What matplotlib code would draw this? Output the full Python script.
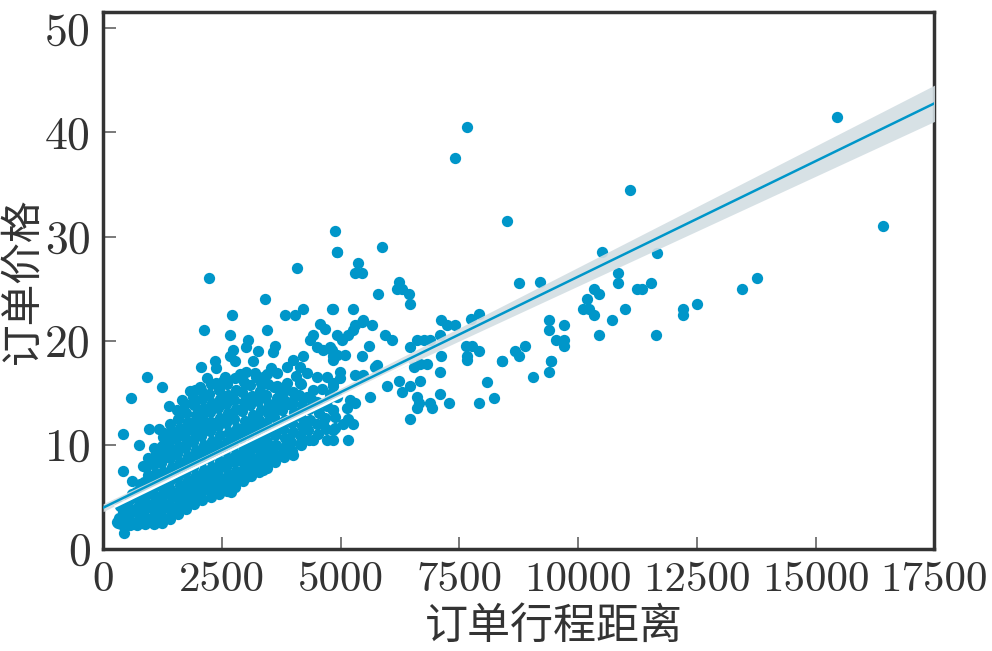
import matplotlib
matplotlib.use("Agg")
import matplotlib.pyplot as plt
import numpy as np
from matplotlib.ticker import FixedLocator

# order distance vs. order price
# dense cloud in the lower left (distance, price)
blob_pts = [
    (380, 2.4), (330, 3.0), (420, 3.5), (360, 4.1), (300, 2.6),
    (560, 2.3), (540, 2.9), (590, 3.5), (520, 4.1), (570, 4.8), (610, 5.3),
    (720, 2.3), (750, 2.9), (700, 3.6), (760, 4.2), (730, 4.9), (690, 5.5), (770, 6.2),
    (880, 2.4), (920, 3.0), (870, 3.7), (930, 4.3), (890, 5.0), (910, 5.7), (860, 6.4),
    (940, 7.1), (900, 7.9), (950, 8.7),
    (1060, 2.4), (1090, 3.1), (1040, 3.8), (1100, 4.5), (1070, 5.2), (1030, 5.9),
    (1080, 6.6), (1110, 7.3), (1050, 8.1), (1090, 8.9), (1060, 9.7),
    (1240, 2.5), (1210, 3.2), (1270, 3.9), (1230, 4.6), (1260, 5.3), (1200, 6.0),
    (1250, 6.7), (1280, 7.4), (1220, 8.2), (1260, 9.0), (1230, 9.9), (1270, 10.7),
    (1400, 2.9), (1430, 3.6), (1390, 4.3), (1440, 5.0), (1410, 5.7), (1380, 6.4),
    (1420, 7.1), (1450, 7.9), (1400, 8.7), (1430, 9.5), (1390, 10.3), (1440, 11.2), (1410, 12.0),
    (1580, 3.3), (1560, 4.0), (1600, 4.7), (1570, 5.4), (1610, 6.1), (1550, 6.8),
    (1590, 7.5), (1620, 8.3), (1560, 9.1), (1600, 9.9), (1570, 10.8), (1610, 11.6),
    (1580, 12.5), (1550, 13.3),
    (1750, 3.8), (1730, 4.5), (1770, 5.2), (1740, 5.9), (1780, 6.6), (1720, 7.3),
    (1760, 8.1), (1790, 8.9), (1730, 9.7), (1770, 10.5), (1740, 11.3), (1780, 12.2),
    (1750, 13.0), (1720, 13.9),
    (1920, 4.3), (1900, 5.0), (1940, 5.7), (1910, 6.4), (1950, 7.1), (1890, 7.9),
    (1930, 8.7), (1960, 9.5), (1900, 10.3), (1940, 11.1), (1910, 12.0), (1950, 12.9),
    (1920, 13.8), (1890, 14.6), (1940, 15.3),
    (2090, 4.7), (2070, 5.4), (2110, 6.1), (2080, 6.8), (2120, 7.6), (2060, 8.4),
    (2100, 9.2), (2130, 10.0), (2070, 10.8), (2110, 11.7), (2080, 12.6), (2120, 13.5),
    (2090, 14.4), (2060, 15.3),
    (2260, 5.0), (2240, 5.7), (2280, 6.4), (2250, 7.1), (2290, 7.9), (2230, 8.7),
    (2270, 9.5), (2300, 10.4), (2240, 11.3), (2280, 12.2), (2250, 13.1), (2290, 14.0),
    (2230, 14.9), (2270, 15.8),
    (2430, 5.3), (2410, 6.0), (2450, 6.8), (2420, 7.6), (2460, 8.4), (2400, 9.2),
    (2440, 10.0), (2470, 10.9), (2410, 11.8), (2450, 12.6), (2420, 13.5), (2460, 14.4),
    (2430, 15.3),
    (2600, 5.6), (2580, 6.3), (2620, 7.1), (2590, 7.9), (2630, 8.7), (2570, 9.5),
    (2610, 10.3), (2640, 11.2), (2580, 12.1), (2620, 13.0), (2590, 13.9), (2630, 14.8),
    (2600, 15.8),
    (2770, 5.9), (2750, 6.7), (2790, 7.5), (2760, 8.3), (2800, 9.1), (2740, 9.9),
    (2780, 10.8), (2810, 11.6), (2750, 12.5), (2790, 13.4), (2760, 14.3), (2800, 15.3),
    (2940, 6.5), (2920, 7.3), (2960, 8.1), (2930, 8.9), (2970, 9.7), (2910, 10.6),
    (2950, 11.5), (2980, 12.3), (2920, 13.2), (2960, 14.1), (2930, 15.1), (2970, 16.0),
    (3110, 7.0), (3090, 7.8), (3130, 8.6), (3100, 9.4), (3140, 10.3), (3080, 11.1),
    (3120, 12.0), (3150, 12.9), (3090, 13.8), (3130, 14.7), (3100, 15.7),
    (3280, 7.4), (3260, 8.2), (3300, 9.0), (3270, 9.8), (3310, 10.7), (3250, 11.6),
    (3290, 12.4), (3320, 13.3), (3260, 14.2), (3300, 15.2),
    (3450, 7.8), (3430, 8.6), (3470, 9.4), (3440, 10.3), (3480, 11.2), (3420, 12.1),
    (3460, 13.0), (3490, 13.9), (3430, 14.8), (3470, 15.8), (3440, 16.8),
    (3620, 8.3), (3600, 9.1), (3640, 10.0), (3610, 10.9), (3650, 11.8), (3590, 12.7),
    (3630, 13.6), (3660, 14.5), (3600, 15.5),
    (3800, 8.8), (3780, 9.7), (3820, 10.6), (3790, 11.5), (3830, 12.4), (3770, 13.3),
    (3810, 14.3), (3840, 15.3),
    (3980, 9.4), (3960, 10.3), (4000, 11.2), (3970, 12.1), (4010, 13.1), (3950, 14.1), (3990, 15.1),
    (4160, 10.0), (4140, 10.9), (4180, 11.8), (4150, 12.8), (4190, 13.8), (4130, 14.8), (4170, 15.8),
    (4340, 10.5), (4320, 11.4), (4360, 12.4), (4330, 13.4), (4370, 14.4),
    (4520, 11.0), (4500, 12.0), (4540, 13.0), (4510, 14.1),
    (4700, 11.5), (4680, 12.6), (4720, 13.7),
]

# looser points around and above the cloud
upper_pts = [
    (923, 16.5), (1240, 15.5), (592, 14.5), (2028, 15.5), (2064, 17.5), (2352, 18.0),
    (2381, 17.4), (2732, 19.1), (2662, 18.5), (2768, 18.0), (3049, 20.1), (3015, 19.4),
    (3269, 19.0), (3613, 19.5), (3577, 18.9), (3155, 18.0), (3015, 17.0), (3227, 16.5),
    (3366, 16.5), (3332, 15.9), (2557, 16.5), (2381, 15.9), (2768, 16.4), (2128, 21.0),
    (2662, 20.5), (3459, 21.0), (4564, 21.6), (4670, 21.1), (2711, 22.5), (3831, 22.5),
    (4036, 22.5), (4211, 23.0), (4824, 23.0), (3408, 24.0), (2225, 26.0), (4072, 27.0),
    (4917, 28.5), (4881, 30.5),
    (4423, 20.5), (4353, 20.1), (4494, 19.4), (4634, 19.1), (4775, 19.4), (4845, 18.5),
    (4211, 18.5), (4000, 18.1), (3860, 17.5), (3649, 16.9), (4141, 17.5), (4283, 16.9),
    (4494, 16.5), (4705, 16.5), (3860, 15.9), (4141, 15.9), (4423, 15.3), (4845, 15.6),
    (3649, 15.6), (3719, 14.9), (4283, 14.6), (4775, 14.6), (4000, 14.0), (4494, 13.7),
    (4845, 13.3), (3719, 13.7),
    (423, 11.0), (972, 11.5), (423, 7.5), (606, 6.5), (761, 10.0), (444, 1.5), (303, 2.5),
    (2698, 5.5), (3015, 6.9), (3366, 7.6), (3155, 7.4), (3543, 8.5), (3719, 9.0),
    (4000, 9.0), (4141, 10.1), (4423, 10.5), (4705, 10.5), (4845, 11.4), (4634, 12.1),
    (4881, 12.7), (1395, 13.7), (1183, 11.5), (1289, 11.1),
    (1660, 14.3), (1830, 15.2), (2180, 16.4), (2520, 16.1), (2870, 16.8), (3190, 16.9),
    (3530, 17.4), (3380, 14.6), (3050, 14.5), (2690, 14.6), (2350, 13.6), (2010, 13.2),
    (3710, 12.1), (3890, 13.9), (4060, 16.6), (4250, 12.3), (4420, 14.0), (4600, 15.4),
    (1840, 11.7), (1500, 10.6), (1170, 9.2), (830, 8.0),
]

# middle range, 4800 - 9800
mid_pts = [
    (4930, 28.5), (5860, 29.0), (5374, 27.5), (5304, 26.5), (5445, 26.5),
    (6219, 25.6), (6185, 25.0), (6290, 25.0), (6430, 24.5), (5796, 24.5), (6451, 23.5),
    (8755, 25.5), (9192, 25.6), (4832, 23.0), (5255, 23.0),
    (5479, 22.0), (5304, 21.5), (5657, 21.5), (5268, 21.0), (5445, 21.8),
    (4917, 20.5), (5022, 20.1), (5163, 20.5), (5937, 20.5), (6079, 20.1),
    (5606, 19.5), (5445, 18.5), (4811, 19.1), (4917, 18.6), (5092, 18.6), (4845, 18.1),
    (7115, 22.0), (7241, 21.5), (7417, 21.5), (7734, 22.1), (7909, 22.6),
    (6607, 20.1), (6747, 20.1), (6889, 20.1), (7100, 20.5),
    (7628, 19.5), (7769, 19.5), (7909, 19.0), (7663, 18.5), (7121, 18.5),
    (8403, 18.0), (8670, 19.0), (8755, 18.5), (8881, 19.5),
    (9388, 22.0), (9388, 21.0), (9705, 21.5), (9530, 20.1), (9705, 20.1), (9705, 19.5),
    (9424, 18.0), (5762, 17.7), (6536, 17.5), (6677, 17.8), (6818, 17.8), (6466, 19.4),
    (4987, 17.0), (4987, 16.4), (4845, 15.9), (4775, 14.9), (4917, 14.6), (5198, 14.3),
    (5304, 14.0), (5128, 13.5), (4845, 13.3), (5163, 12.5), (5057, 12.0), (5268, 12.0),
    (4881, 11.6), (4845, 10.5), (5163, 10.5),
    (5304, 16.7), (5479, 16.7), (5726, 17.5), (5973, 15.6), (6219, 16.1), (6290, 15.1),
    (6466, 15.6), (6677, 16.1), (6607, 14.6), (6641, 14.0), (6607, 13.5), (6889, 14.0),
    (6924, 13.5), (7100, 14.9), (7100, 17.0), (7276, 14.0), (6451, 12.5), (5621, 14.6),
    (7663, 18.1), (8403, 18.0), (8086, 16.0), (7909, 14.0), (8226, 14.5), (9050, 16.5),
    (9375, 17.0), (9438, 18.0),
]

# sparse long trips
far_pts = [
    (7649, 40.5), (7417, 37.5), (8509, 31.5),
    (11093, 34.5), (10502, 28.5), (11664, 28.4),
    (10833, 26.5), (10833, 25.5), (10339, 25.0), (10445, 24.5), (10185, 24.0),
    (10094, 23.0), (10234, 23.0), (10339, 22.5), (10713, 22.0), (10994, 23.0),
    (10445, 20.5), (11241, 25.0), (11347, 25.0), (11537, 25.5), (11643, 20.5),
    (12207, 23.0), (12207, 22.5), (12509, 23.5), (13439, 25.0), (13762, 26.0),
    (15446, 41.5), (16418, 31.0),
]

# fitted line and its confidence band
fit_intercept = 3.95
fit_slope = 0.00222
band_floor = 0.25
band_growth = 1.15e-4
band_centre = 2500

x_ticks = [0, 2500, 5000, 7500, 10000, 12500, 15000, 17500]
y_ticks = [0, 10, 20, 30, 40, 50]
x_label = "订单行程距离"
y_label = "订单价格"

all_pts = blob_pts + upper_pts + mid_pts + far_pts
dist = np.array([p[0] for p in all_pts], dtype=float)
price = np.array([p[1] for p in all_pts], dtype=float)

blue = "#0096c9"

fig = plt.figure(figsize=(9.92, 6.51), dpi=100)
ax = fig.add_axes([0.104, 0.157, 0.838, 0.825])

ax.scatter(dist, price, s=66, color=blue, linewidths=0, zorder=2)

xs = np.linspace(0, 17500, 200)
fit = fit_intercept + fit_slope * xs
half = np.sqrt(band_floor ** 2 + (band_growth * (xs - band_centre)) ** 2)
ax.fill_between(xs, fit - half, fit + half, color="#d3dee3", alpha=0.9,
                linewidth=0, zorder=3)
seg = (xs > 250) & (xs < 6500)
ax.plot(xs[seg], fit[seg] - 0.45, color="white", lw=1.8, zorder=3.5)
ax.plot(xs, fit, color=blue, lw=1.8, zorder=4)

ax.set_xlim(0, 17500)
ax.set_ylim(0, 51.6)
ax.xaxis.set_major_locator(FixedLocator(x_ticks))
ax.yaxis.set_major_locator(FixedLocator(y_ticks))
ax.set_xticklabels([str(t) for t in x_ticks], fontfamily="cmr10", fontsize=31)
ax.set_yticklabels([str(t) for t in y_ticks], fontfamily="cmr10", fontsize=33)
ax.tick_params(axis="both", direction="in", length=9, width=1.1, color="#555555",
               labelcolor="#333333")
ax.tick_params(axis="x", pad=9)
ax.tick_params(axis="y", pad=9)

for side in ax.spines.values():
    side.set_linewidth(2.5)
    side.set_color("#333333")

cjk = ["Noto Sans CJK SC", "DejaVu Sans"]
ax.set_xlabel(x_label, fontsize=31, family=cjk, color="#333333")
ax.set_ylabel(y_label, fontsize=30, family=cjk, color="#333333")
ax.xaxis.set_label_coords(0.542, -0.104)
ax.yaxis.set_label_coords(-0.072, 0.5)

fig.savefig("out.png", dpi=100)
